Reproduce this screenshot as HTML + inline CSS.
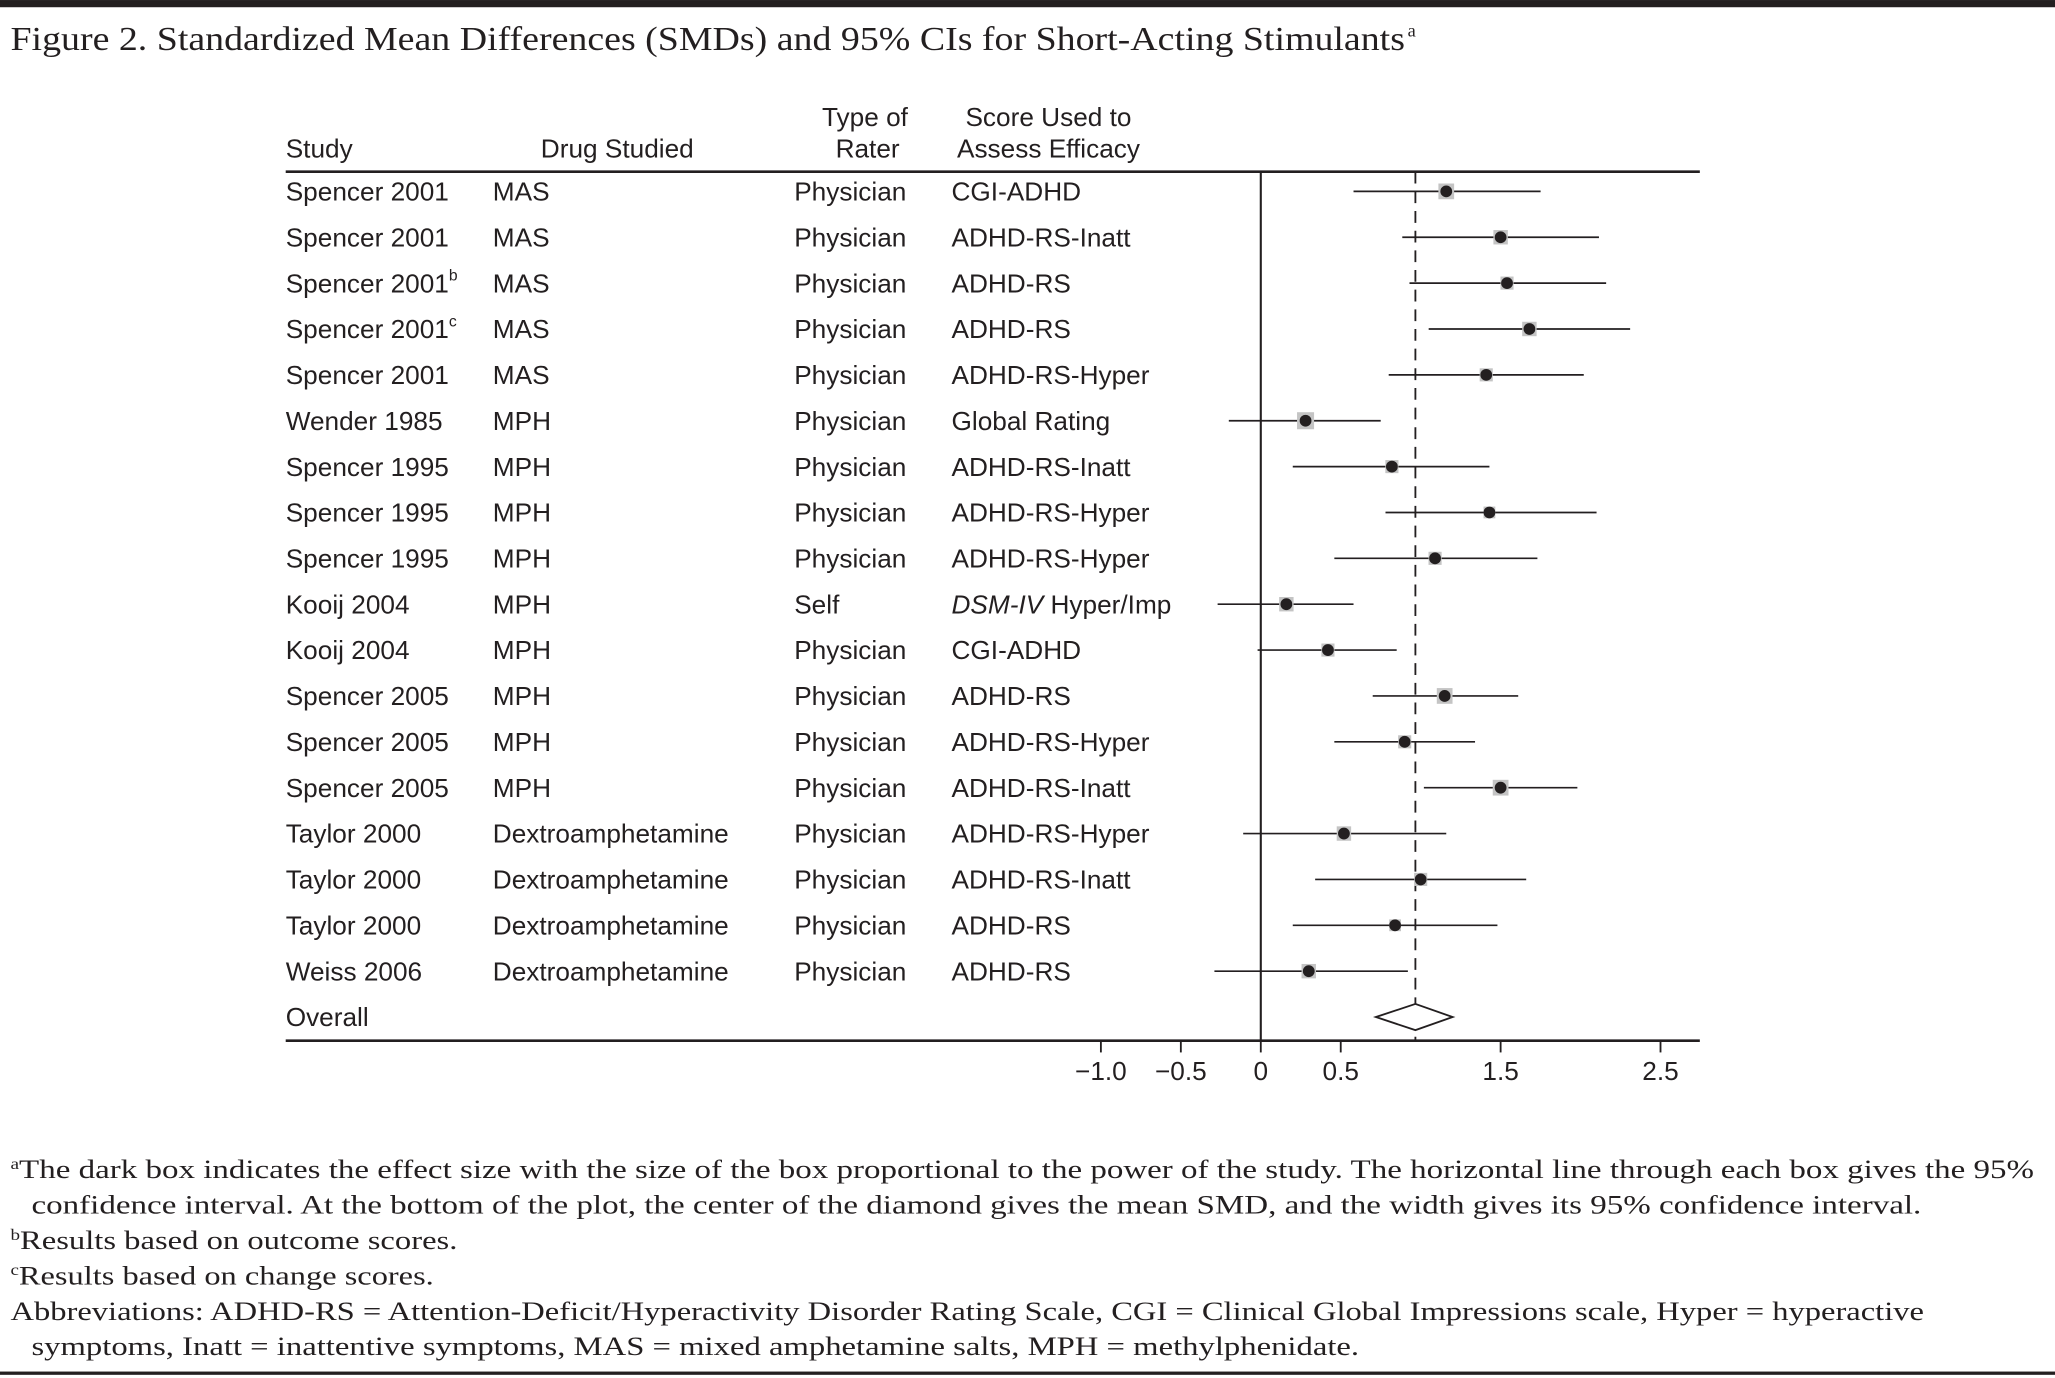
<!DOCTYPE html>
<html><head><meta charset="utf-8"><style>
html,body{margin:0;padding:0;background:#fff}
svg{display:block}
.s{font-family:"Liberation Sans",sans-serif;font-size:20px;fill:#231f20}
.f{font-family:"Liberation Serif",serif;fill:#231f20}
</style></head><body>
<svg id="fig" width="2055" height="1378" viewBox="0 0 1568 1051.4" xmlns="http://www.w3.org/2000/svg">
<rect x="0" y="0" width="1568" height="5.5" fill="#231f20"/>
<text class="f" x="8" y="38" font-size="26" textLength="1064" lengthAdjust="spacingAndGlyphs">Figure 2. Standardized Mean Differences (SMDs) and 95% CIs for Short-Acting Stimulants</text>
<text class="f" x="1074" y="28" font-size="14">a</text>

<g>
<text class="s" x="218" y="120">Study</text>
<text class="s" x="471" y="120" text-anchor="middle">Drug Studied</text>
<text class="s" x="660" y="96" text-anchor="middle">Type of</text>
<text class="s" x="662" y="120" text-anchor="middle">Rater</text>
<text class="s" x="800" y="96" text-anchor="middle">Score Used to</text>
<text class="s" x="800" y="120" text-anchor="middle">Assess Efficacy</text>
</g>
<line x1="218" y1="131" x2="1297" y2="131" stroke="#231f20" stroke-width="2"/>
<line x1="218" y1="794" x2="1297" y2="794" stroke="#231f20" stroke-width="2"/>
<g id="plot"></g>

<g>
<text class="f" style="font-size:20.5px" x="8" y="899" textLength="1544" lengthAdjust="spacingAndGlyphs"><tspan style="font-size:12px" dy="-7">a</tspan><tspan style="font-size:20.5px" dy="7">The dark box indicates the effect size with the size of the box proportional to the power of the study. The horizontal line through each box gives the 95%</tspan></text>
<text class="f" style="font-size:20.5px" x="24" y="926" textLength="1442" lengthAdjust="spacingAndGlyphs">confidence interval. At the bottom of the plot, the center of the diamond gives the mean SMD, and the width gives its 95% confidence interval.</text>
<text class="f" style="font-size:20.5px" x="8" y="953" textLength="341" lengthAdjust="spacingAndGlyphs"><tspan style="font-size:12px" dy="-7">b</tspan><tspan style="font-size:20.5px" dy="7">Results based on outcome scores.</tspan></text>
<text class="f" style="font-size:20.5px" x="8" y="980" textLength="323" lengthAdjust="spacingAndGlyphs"><tspan style="font-size:12px" dy="-7">c</tspan><tspan style="font-size:20.5px" dy="7">Results based on change scores.</tspan></text>
<text class="f" style="font-size:20.5px" x="8" y="1007" textLength="1460" lengthAdjust="spacingAndGlyphs">Abbreviations: ADHD-RS = Attention-Deficit/Hyperactivity Disorder Rating Scale, CGI = Clinical Global Impressions scale, Hyper = hyperactive</text>
<text class="f" style="font-size:20.5px" x="24" y="1034" textLength="1013" lengthAdjust="spacingAndGlyphs">symptoms, Inatt = inattentive symptoms, MAS = mixed amphetamine salts, MPH = methylphenidate.</text>
</g>
<rect x="0" y="1046.5" width="1568" height="2.5" fill="#231f20"/>
</svg>
<script>
const studies=["Spencer 2001","Spencer 2001","Spencer 2001","Spencer 2001","Spencer 2001","Wender 1985","Spencer 1995","Spencer 1995","Spencer 1995","Kooij 2004","Kooij 2004","Spencer 2005","Spencer 2005","Spencer 2005","Taylor 2000","Taylor 2000","Taylor 2000","Weiss 2006"];
const sups=["","","b","c","","","","","","","","","","","","","",""];
const drugs=["MAS","MAS","MAS","MAS","MAS","MPH","MPH","MPH","MPH","MPH","MPH","MPH","MPH","MPH","Dextroamphetamine","Dextroamphetamine","Dextroamphetamine","Dextroamphetamine"];
const raters=["Physician","Physician","Physician","Physician","Physician","Physician","Physician","Physician","Physician","Self","Physician","Physician","Physician","Physician","Physician","Physician","Physician","Physician"];
const scores=["CGI-ADHD","ADHD-RS-Inatt","ADHD-RS","ADHD-RS","ADHD-RS-Hyper","Global Rating","ADHD-RS-Inatt","ADHD-RS-Hyper","ADHD-RS-Hyper","DSM-IV| Hyper/Imp","CGI-ADHD","ADHD-RS","ADHD-RS-Hyper","ADHD-RS-Inatt","ADHD-RS-Hyper","ADHD-RS-Inatt","ADHD-RS","ADHD-RS"];
const smd=[1.16,1.50,1.54,1.68,1.41,0.28,0.82,1.43,1.09,0.16,0.42,1.15,0.90,1.50,0.52,1.00,0.84,0.30];
const ciLow=[0.58,0.885,0.93,1.05,0.80,-0.20,0.20,0.78,0.46,-0.27,-0.02,0.70,0.46,1.02,-0.11,0.34,0.20,-0.29];
const ciHigh=[1.75,2.115,2.16,2.31,2.02,0.75,1.43,2.10,1.73,0.58,0.85,1.61,1.34,1.98,1.16,1.66,1.48,0.92];
const boxSize=[12,11,10,11,10,13,10,9,10,11,10,12,10,12,11,10,9,11];
const overall=[0.967,0.72,1.20];
const ticks=[-1.0,-0.5,0,0.5,1.5,2.5];
const tickLabels=["\u22121.0","\u22120.5","0","0.5","1.5","2.5"];

const NS="http://www.w3.org/2000/svg";
const g=document.getElementById('plot');
const X=v=>962+v*122;
const Y=i=>146+i*35;
function mk(tag,attrs,parent){const e=document.createElementNS(NS,tag);for(const k in attrs)e.setAttribute(k,attrs[k]);(parent||g).appendChild(e);return e;}

mk('line',{x1:X(0),y1:131,x2:X(0),y2:794,stroke:'#231f20','stroke-width':1.6});
const zl=g.lastChild;


mk('line',{x1:X(overall[0]),y1:131,x2:X(overall[0]),y2:794,stroke:'#231f20','stroke-width':1.4,'stroke-dasharray':'9,6'});
const ml=g.lastChild;



for(let i=0;i<studies.length;i++){
  const y=Y(i);
  const row=mk('g',{});
  
  
  const t1=mk('text',{class:'s',x:218,y:y+7},row);
  t1.textContent=studies[i];
  
  
  if(sups[i]){const sp=mk('tspan',{'font-size':12,dy:-9},t1);sp.textContent=sups[i];}
  const t2=mk('text',{class:'s',x:376,y:y+7},row);
  t2.textContent=drugs[i];
  
  
  const t3=mk('text',{class:'s',x:606,y:y+7},row);
  t3.textContent=raters[i];
  
  
  const t4=mk('text',{class:'s',x:726,y:y+7},row);
  
  
  if(scores[i].includes('|')){const [a,b]=scores[i].split('|');const s1=mk('tspan',{'font-style':'italic'},t4);s1.textContent=a;const s2=mk('tspan',{},t4);s2.textContent=b;}
  else t4.textContent=scores[i];
  const ci=mk('line',{x1:X(ciLow[i]),y1:y,x2:X(ciHigh[i]),y2:y,stroke:'#231f20','stroke-width':1.3},row);
  
  
  const b=boxSize[i];
  const sq=mk('rect',{x:X(smd[i])-b/2,y:y-b/2,width:b,height:b,fill:'#c4c4c4'},row);
  
  
  const c=mk('circle',{cx:X(smd[i]),cy:y,r:4.5,fill:'#231f20'},row);
  
  
}
const oy=Y(studies.length);
const ot=mk('text',{class:'s',x:218,y:oy+7});
ot.textContent='Overall';


const dm=mk('polygon',{points:`${X(overall[1])},${oy} ${X(overall[0])},${oy-10} ${X(overall[2])},${oy} ${X(overall[0])},${oy+10}`,fill:'#fff',stroke:'#231f20','stroke-width':1.4});


for(let i=0;i<ticks.length;i++){
  const tk=mk('line',{x1:X(ticks[i]),y1:794,x2:X(ticks[i]),y2:803,stroke:'#231f20','stroke-width':1.4});
  
  
  const tl=mk('text',{class:'s',x:X(ticks[i]),y:824,'text-anchor':'middle'});
  tl.textContent=tickLabels[i];
  
  
}
</script>
</body></html>
